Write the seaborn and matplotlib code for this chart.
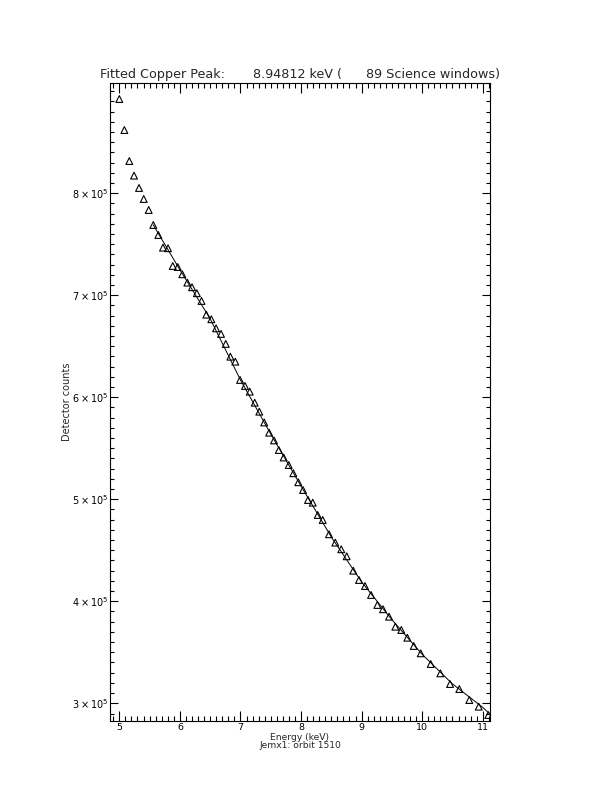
import matplotlib
matplotlib.use("Agg")
import matplotlib.pyplot as plt
from matplotlib.ticker import MultipleLocator
import seaborn as sns
import pandas as pd

# ---- data ----
energy = [5.000, 5.083, 5.165, 5.243, 5.325, 5.403, 5.485, 5.561, 5.644, 5.721,
          5.804, 5.882, 5.964, 6.040, 6.123, 6.200, 6.280, 6.357, 6.436, 6.519,
          6.597, 6.679, 6.757, 6.833, 6.915, 6.993, 7.075, 7.153, 7.235, 7.311,
          7.392, 7.473, 7.554, 7.633, 7.713, 7.797, 7.873, 7.955, 8.033, 8.115,
          8.193, 8.276, 8.358, 8.462, 8.566, 8.664, 8.754, 8.862, 8.957, 9.056,
          9.156, 9.260, 9.354, 9.453, 9.557, 9.656, 9.755, 9.861, 9.976, 10.141,
          10.300, 10.460, 10.613, 10.778, 10.934, 11.092]
counts = [8.924, 8.620, 8.316, 8.173, 8.052, 7.944, 7.836, 7.689, 7.591, 7.467,
          7.461, 7.287, 7.277, 7.206, 7.124, 7.079, 7.020, 6.944, 6.810, 6.765,
          6.676, 6.621, 6.523, 6.398, 6.349, 6.170, 6.111, 6.055, 5.947, 5.859,
          5.753, 5.653, 5.577, 5.483, 5.410, 5.336, 5.255, 5.167, 5.091, 4.993,
          4.967, 4.846, 4.797, 4.657, 4.575, 4.510, 4.441, 4.300, 4.209, 4.150,
          4.062, 3.964, 3.922, 3.849, 3.751, 3.719, 3.643, 3.562, 3.490, 3.385,
          3.294, 3.189, 3.140, 3.032, 2.967, 2.885]
counts = [c * 1e5 for c in counts]

fit_energy = [5.56, 6.0, 6.5, 7.0, 7.5, 8.0, 8.5, 9.0, 9.5, 10.0, 10.5, 11.0, 11.1]
fit_counts = [7.69, 7.25, 6.77, 6.17, 5.64, 5.13, 4.63, 4.19, 3.82, 3.48, 3.19, 2.96, 2.905]
fit_counts = [c * 1e5 for c in fit_counts]

x_ticks = [5, 6, 7, 8, 9, 10, 11]
x_ticklabels = ["5", "6", "7", "8", "9", "10", "11"]
y_ticks = [3e5, 4e5, 5e5, 6e5, 7e5, 8e5]
y_ticklabels = [r"$3\times10^{5}$", r"$4\times10^{5}$", r"$5\times10^{5}$",
                r"$6\times10^{5}$", r"$7\times10^{5}$", r"$8\times10^{5}$"]

title = "Fitted Copper Peak:       8.94812 keV (      89 Science windows)"
xlabel = "Energy (keV)"
subtitle = "Jemx1: orbit 1510"
ylabel = "Detector counts"

# ---- plotting ----
sns.set_style("ticks")
plt.rcParams["font.family"] = ["DejaVu Sans"]
plt.rcParams["mathtext.fontset"] = "dejavusans"

fig = plt.figure(figsize=(6.12, 7.92), dpi=100, facecolor="white")
ax = fig.add_axes([110 / 612, 1 - 721 / 792, 380 / 612, 638 / 792])

pts = pd.DataFrame({"energy": energy, "counts": counts})
fit = pd.DataFrame({"energy": fit_energy, "counts": fit_counts})

sns.lineplot(data=fit, x="energy", y="counts", ax=ax, color="black",
             linewidth=0.7, sort=False)
sns.scatterplot(data=pts, x="energy", y="counts", ax=ax, marker="^",
                s=24, facecolors="none", edgecolor="black", linewidth=0.8)

ax.set_xlim(4.846, 11.12)
ax.set_ylim(2.8265e5, 9.081e5)

ax.set_xticks(x_ticks)
ax.set_xticklabels(x_ticklabels)
ax.set_yticks(y_ticks)
ax.set_yticklabels(y_ticklabels)
ax.xaxis.set_minor_locator(MultipleLocator(0.1))
ax.yaxis.set_minor_locator(MultipleLocator(1e4))

ax.tick_params(axis="both", which="both", direction="in", top=True, right=True,
               color="black", width=0.8, labelsize=7, labelcolor="black")
ax.tick_params(axis="x", which="major", length=7.5, pad=1.5, labelsize=6.8)
ax.tick_params(axis="x", which="minor", length=3.8)
ax.tick_params(axis="y", which="major", length=6, pad=1)
ax.tick_params(axis="y", which="minor", length=3)

for sp in ax.spines.values():
    sp.set_visible(True)
    sp.set_linewidth(0.8)
    sp.set_color("black")

ax.set_xlabel("")
ax.set_ylabel(ylabel, fontsize=7, labelpad=0)
ax.text(0.5, -0.0255, xlabel, transform=ax.transAxes, ha="center", va="center",
        fontsize=6.6)
ax.text(0.5, -0.0385, subtitle, transform=ax.transAxes, ha="center", va="center",
        fontsize=6.6)
ax.text(0.5, 1.013, title, transform=ax.transAxes, ha="center", va="center",
        fontsize=9.2)

fig.savefig("out.png", dpi=100, facecolor="white")
